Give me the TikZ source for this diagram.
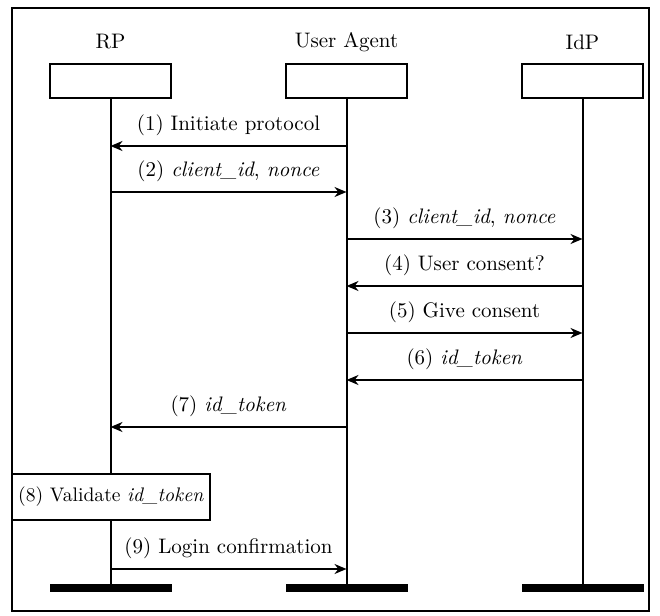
\documentclass[tikz,border=0pt]{standalone}
\usetikzlibrary{arrows.meta}
\begin{document}
\begin{tikzpicture}[x=0.5pt,y=-0.5pt, font=\fontsize{10.5}{12.5}\selectfont,
 lifebox/.style={draw,line width=1pt,minimum width=60.5pt,minimum height=17pt,inner sep=0},
 life/.style={line width=1pt},
 msg/.style={line width=1pt,-{Stealth[length=6pt,width=5pt]}},
 lbl/.style={above,yshift=3.5pt,inner sep=1pt},
 actbox/.style={draw,fill=white,line width=1pt,minimum width=99pt,minimum height=23pt,inner sep=0,font=\fontsize{9.8}{12}\selectfont},
 endbar/.style={fill=black,minimum width=61pt,minimum height=4pt,inner sep=0}]
\useasboundingbox (0,0) rectangle (660,616);
\draw[line width=1pt] (12,8) rectangle (649,611);
% participants
\node (nrp) at (110.5,42) {RP};
\node (nua) at (346.5,42) {User Agent};
\node (nidp) at (582.5,42) {IdP};
\node[lifebox] (rp) at (110.5,81) {};
\node[lifebox] (ua) at (346.5,81) {};
\node[lifebox] (idp) at (582.5,81) {};
\node[endbar] (rpend) at (110.5,588) {};
\node[endbar] (uaend) at (346.5,588) {};
\node[endbar] (idpend) at (582.5,588) {};
\draw[life] (rp.south) -- (rpend.north);
\draw[life] (ua.south) -- (uaend.north);
\draw[life] (idp.south) -- (idpend.north);
% message levels
\coordinate (y1) at (0,146);
\coordinate (y2) at (0,192);
\coordinate (y3) at (0,239);
\coordinate (y4) at (0,286);
\coordinate (y5) at (0,333);
\coordinate (y6) at (0,380);
\coordinate (y7) at (0,427);
\coordinate (y9) at (0,569);
\draw[msg] (ua |- y1) -- node[lbl] {(1) Initiate protocol} (rp |- y1);
\draw[msg] (rp |- y2) -- node[lbl] {(2) \textit{client\_id}, \textit{nonce}} (ua |- y2);
\draw[msg] (ua |- y3) -- node[lbl] {(3) \textit{client\_id}, \textit{nonce}} (idp |- y3);
\draw[msg] (idp |- y4) -- node[lbl] {(4) User consent?} (ua |- y4);
\draw[msg] (ua |- y5) -- node[lbl] {(5) Give consent} (idp |- y5);
\draw[msg] (idp |- y6) -- node[lbl] {(6) \textit{id\_token}} (ua |- y6);
\draw[msg] (ua |- y7) -- node[lbl] {(7) \textit{id\_token}} (rp |- y7);
\node[actbox] (val) at (111,497) {(8) Validate \textit{id\_token}};
\draw[msg] (rp |- y9) -- node[lbl] {(9) Login confirmation} (ua |- y9);
\end{tikzpicture}
\end{document}
